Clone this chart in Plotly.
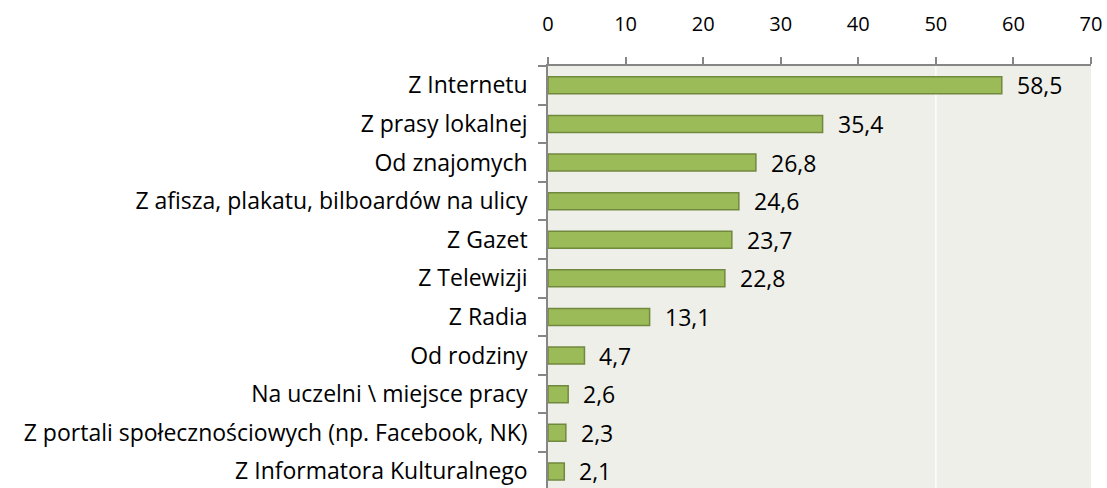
import plotly.graph_objects as go

# Źródła informacji o wydarzeniach kulturalnych (%)
categories = [
    "Z Internetu",
    "Z prasy lokalnej",
    "Od znajomych",
    "Z afisza, plakatu, bilboardów na ulicy",
    "Z Gazet",
    "Z Telewizji",
    "Z Radia",
    "Od rodziny",
    "Na uczelni \\ miejsce pracy",
    "Z portali społecznościowych (np. Facebook, NK)",
    "Z Informatora Kulturalnego",
]
values = [58.5, 35.4, 26.8, 24.6, 23.7, 22.8, 13.1, 4.7, 2.6, 2.3, 2.1]
x_ticks = [0, 10, 20, 30, 40, 50, 60, 70]

FONT = "Open Sans"
BAR_FILL = "#9BBB59"
BAR_EDGE = "#71893F"
AXIS_GREY = "#868686"

fig = go.Figure()
fig.add_trace(
    go.Bar(
        x=values,
        y=categories,
        orientation="h",
        marker=dict(color=BAR_FILL, line=dict(color=BAR_EDGE, width=1.5)),
        hoverinfo="skip",
    )
)

# value labels beside each bar, decimal comma
for cat, v in zip(categories, values):
    fig.add_annotation(
        x=v, y=cat, text=f"{v:.1f}".replace(".", ","),
        showarrow=False, xanchor="left", yanchor="middle",
        xshift=13, font=dict(family=FONT, size=23, color="#000000"),
    )

# single white reference line at 50
fig.add_shape(
    type="line", xref="x", yref="paper", x0=50, x1=50, y0=0, y1=1,
    line=dict(color="#FFFFFF", width=1.2), layer="below",
)

fig.update_layout(
    width=1107,
    height=488,
    margin=dict(l=548, r=16, t=66, b=0),
    paper_bgcolor="#FFFFFF",
    plot_bgcolor="#EFEFEA",
    bargap=0.56,
    showlegend=False,
    font=dict(family=FONT, size=20, color="#000000"),
    xaxis=dict(
        side="top",
        range=[0, 70],
        tickvals=x_ticks,
        ticktext=[str(t) for t in x_ticks],
        showgrid=False,
        zeroline=False,
        showline=True,
        linecolor=AXIS_GREY,
        linewidth=1.5,
        ticks="outside",
        ticklen=7,
        tickcolor=AXIS_GREY,
        tickwidth=1.5,
        tickfont=dict(family=FONT, size=20, color="#000000"),
        ticklabelstandoff=18,
    ),
    yaxis=dict(
        type="category",
        categoryorder="array",
        categoryarray=categories,
        range=[10.43, -0.5],
        showgrid=False,
        zeroline=False,
        showline=True,
        linecolor=AXIS_GREY,
        linewidth=1.5,
        ticks="outside",
        tickson="boundaries",
        ticklen=8,
        tickcolor=AXIS_GREY,
        tickwidth=1.5,
        tickfont=dict(family=FONT, size=23, color="#000000"),
        ticklabelstandoff=14,
    ),
)

fig.write_html("out.html")
